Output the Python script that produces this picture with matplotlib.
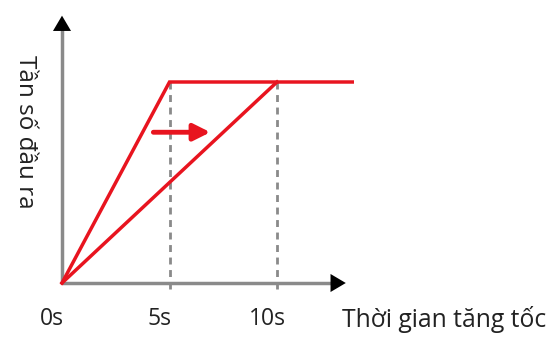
import matplotlib.pyplot as plt

plt.rcParams['font.family'] = ['Open Sans', 'DejaVu Sans']

# data: acceleration time (s) vs output frequency (relative)
tick_times = [0, 5, 10]
tick_labels = ['0s', '5s', '10s']
fast_t = [0, 5, 13.5]
fast_f = [0, 1, 1]
slow_t = [0, 10]
slow_f = [0, 1]
x_end = 13.2
y_end = 1.33
shift_arrow = [(4.25, 0.75), (6.9, 0.75)]

red = '#e8141f'
grey = '#8a8a8a'
head = '-|>,head_length=1.1,head_width=0.65'

fig = plt.figure(figsize=(5.6, 3.39), dpi=100)
ax = fig.add_axes([0, 0, 1, 1])
ax.set_xlim(-62 / 21.5, (560 - 62) / 21.5)
ax.set_ylim((283 - 339) / 201, 283 / 201)
ax.axis('off')

# axes: grey shafts, black arrow heads
ax.plot([0, x_end - 0.4], [0, 0], color=grey, lw=2.5, solid_capstyle='butt')
ax.plot([0, 0], [0, y_end - 0.04], color=grey, lw=2.5, solid_capstyle='butt')
ax.annotate('', xy=(x_end, 0), xytext=(x_end - 0.01, 0),
            arrowprops=dict(arrowstyle=head, color='black', lw=0, shrinkA=0, shrinkB=0))
ax.annotate('', xy=(0, y_end), xytext=(0, y_end - 0.001),
            arrowprops=dict(arrowstyle=head, color='black', lw=0, shrinkA=0, shrinkB=0))

# dashed guides
for t in tick_times[1:]:
    ax.plot([t, t], [-0.03, 1], ls=(0, (2.5, 2)), color=grey, lw=2, zorder=1)

ax.plot(fast_t, fast_f, color=red, lw=2.5, solid_joinstyle='miter', zorder=3)
ax.plot(slow_t, slow_f, color=red, lw=2.5, zorder=3)

ax.annotate('', xy=shift_arrow[1], xytext=shift_arrow[0],
            arrowprops=dict(arrowstyle='-|>,head_length=1.0,head_width=0.5',
                            color=red, lw=3.5, shrinkA=0, shrinkB=0), zorder=4)

for t, lab in zip(tick_times, tick_labels):
    ax.text(t - 0.45, -0.18, lab, ha='center', va='center', fontsize=16.5, color='#222222')
ax.text(13.0, -0.18, 'Thời gian tăng tốc', ha='left', va='center', fontsize=17.8, color='#222222')
ax.text(-1.72, 0.75, 'Tần số đầu ra', ha='center', va='center', rotation=-90,
        fontsize=17.5, color='#222222')

fig.savefig('out.png', dpi=100)
